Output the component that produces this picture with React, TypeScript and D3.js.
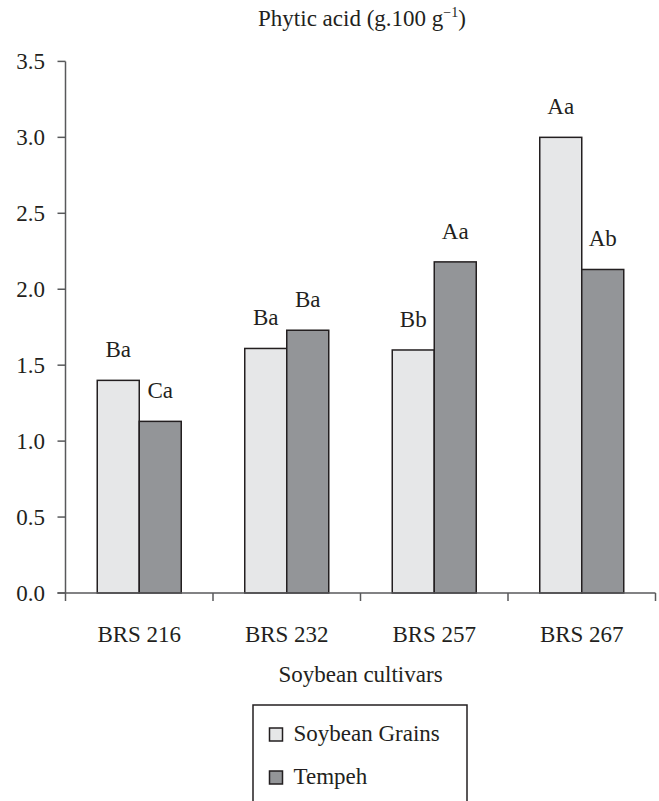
import React from 'react';
import * as d3 from 'd3';

// chart data
const cultivars = ['BRS 216', 'BRS 232', 'BRS 257', 'BRS 267'];
const seriesNames = ['Soybean Grains', 'Tempeh'];
const grainsValues = [1.40, 1.61, 1.60, 3.00];
const tempehValues = [1.13, 1.73, 2.18, 2.13];
const grainsLabels = ['Ba', 'Ba', 'Bb', 'Aa'];
const tempehLabels = ['Ca', 'Ba', 'Aa', 'Ab'];
const yTicks = [0, 0.5, 1.0, 1.5, 2.0, 2.5, 3.0, 3.5];

const seriesColors = ['#e6e7e8', '#939598'];
const FONT = '"Liberation Serif", "Times New Roman", serif';

const App = () => {
    const width = 659;
    const height = 801;
    const left = 65.5;
    const right = 655.5;
    const bottom = 593;
    const top = 61.4;
    const barW = 42;
    const fs = 23;

    const x0 = d3.scaleBand().domain(cultivars).range([left, right]).padding(0);
    const bw = x0.bandwidth();
    const x1 = d3.scaleBand().domain(seriesNames).range([bw / 2 - barW, bw / 2 + barW]).padding(0);
    const y = d3.scaleLinear().domain([0, 3.5]).range([bottom, top]);

    const rows = cultivars.map((c, i) => ({
        cultivar: c,
        bars: [
            { key: seriesNames[0], value: grainsValues[i], label: grainsLabels[i] },
            { key: seriesNames[1], value: tempehValues[i], label: tempehLabels[i] },
        ],
    }));

    const axisColor = '#58595b';
    const textColor = '#231f20';

    return (
        <svg width={width} height={height} style={{ position: 'absolute', left: 0, top: 0 }}
            fontFamily={FONT} fill={textColor}>
            {/* title */}
            <text x={362} y={26} textAnchor="middle" fontSize={fs}>
                Phytic acid (g.100 g<tspan fontSize={14} dy={-9}>−1</tspan><tspan dy={9}>)</tspan>
            </text>

            {/* y axis */}
            <line x1={left} x2={left} y1={top} y2={bottom} stroke={axisColor} strokeWidth={1.5} />
            {yTicks.map(t => (
                <g key={t}>
                    <line x1={left - 8} x2={left} y1={y(t)} y2={y(t)} stroke={axisColor} strokeWidth={1.5} />
                    <text x={45} y={y(t)} dy="0.35em" textAnchor="end" fontSize={fs}>{t.toFixed(1)}</text>
                </g>
            ))}

            {/* bars */}
            {rows.map(r => (
                <g key={r.cultivar} transform={`translate(${x0(r.cultivar)},0)`}>
                    {r.bars.map((b, j) => (
                        <g key={b.key}>
                            <rect x={x1(b.key)} y={y(b.value)} width={x1.bandwidth()}
                                height={bottom - y(b.value)} fill={seriesColors[j]}
                                stroke={textColor} strokeWidth={1.5} />
                            <text x={(x1(b.key) as number) + x1.bandwidth() / 2} y={y(b.value) - 23}
                                textAnchor="middle" fontSize={fs}>{b.label}</text>
                        </g>
                    ))}
                </g>
            ))}

            {/* x axis */}
            <line x1={left - 8} x2={right} y1={bottom} y2={bottom} stroke={axisColor} strokeWidth={1.5} />
            {cultivars.map(c => (
                <line key={c} x1={x0(c)} x2={x0(c)} y1={bottom} y2={bottom + 8} stroke={axisColor} strokeWidth={1.5} />
            ))}
            <line x1={right} x2={right} y1={bottom} y2={bottom + 8} stroke={axisColor} strokeWidth={1.5} />
            {cultivars.map(c => (
                <text key={c} x={(x0(c) as number) + bw / 2} y={642} textAnchor="middle" fontSize={fs}>{c}</text>
            ))}
            <text x={(left + right) / 2} y={682} textAnchor="middle" fontSize={fs}>Soybean cultivars</text>

            {/* legend */}
            <rect x={253} y={705} width={214} height={110} fill="none" stroke={textColor} strokeWidth={1.5} />
            {seriesNames.map((s, i) => (
                <g key={s} transform={`translate(269.5,${728 + i * 43})`}>
                    <rect width={13} height={13} fill={seriesColors[i]} stroke={textColor} strokeWidth={1.5} />
                    <text x={24} y={12.5} fontSize={fs}>{s}</text>
                </g>
            ))}
        </svg>
    );
};

export default App;
